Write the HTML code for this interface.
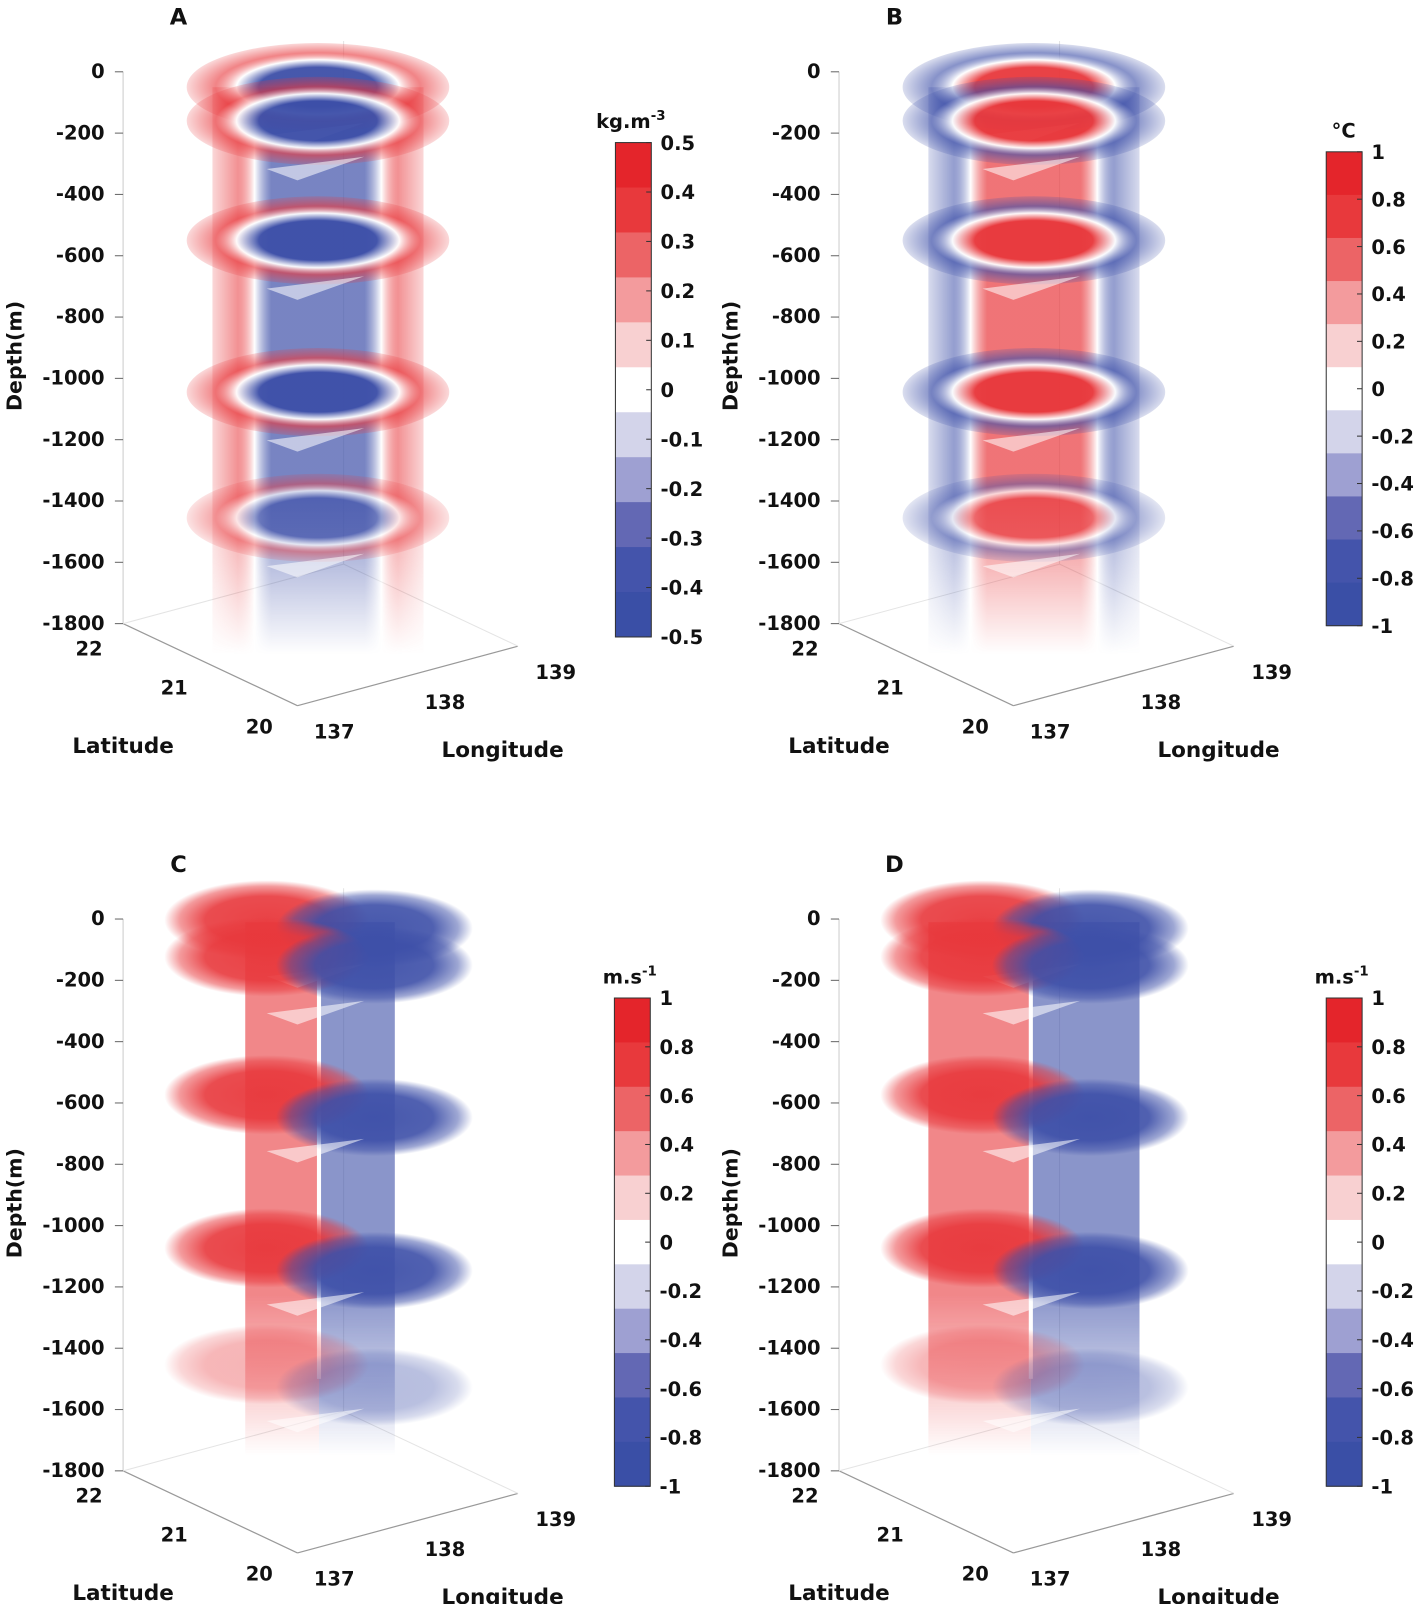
<!DOCTYPE html>
<html><head><meta charset="utf-8">
<style>
body{margin:0;background:#fff;}
svg text{font-family:"DejaVu Sans","Liberation Sans",sans-serif;font-weight:bold;fill:#111;}
</style></head>
<body>
<svg id="root" width="1418" height="1604" viewBox="0 0 1418 1604" xmlns="http://www.w3.org/2000/svg">
<defs id="defs"></defs>
<g id="fig" transform="scale(1.0257)"></g>
</svg>
<script>
const depthTicks=[0,-200,-400,-600,-800,-1000,-1200,-1400,-1600,-1800];
const latTicks=[22,21,20];
const lonTicks=[137,138,139];
const cbTicksA=[0.5,0.4,0.3,0.2,0.1,0,-0.1,-0.2,-0.3,-0.4,-0.5];
const cbTicksB=[1,0.8,0.6,0.4,0.2,0,-0.2,-0.4,-0.6,-0.8,-1];
const diskDepthsAB=[50,160,550,1045,1455];
const diskDepthsCD=[30,150,600,1100,1480];
const bandColors=['#e4252b','#e8393c','#ec6466','#f39b9d','#f8d0d1','#ffffff','#d3d4ea','#9ea0d2','#6368b4','#4454ab','#3a4fa6'];

const NS='http://www.w3.org/2000/svg';
const svg=document.getElementById('fig');
const defs=document.getElementById('defs');
function el(tag,attrs,parent){const e=document.createElementNS(NS,tag);for(const k in attrs)e.setAttribute(k,attrs[k]);(parent||svg).appendChild(e);return e;}
function txt(x,y,s,size,anchor,parent){const t=el('text',{x:x,y:y,'font-size':size,'text-anchor':anchor||'start'},parent);t.textContent=s;return t;}

const RED='#e8383c',BLUE='#3d4fa8';
function radial(id,inner,outer){
  const g=el('radialGradient',{id:id},defs);
  [[0,inner,1],[0.45,inner,1],[0.62,'#ffffff',1],[0.78,outer,0.65],[1,outer,0.2]].forEach(s=>el('stop',{offset:s[0],'stop-color':s[1],'stop-opacity':s[2]},g));
}
radial('diskA',BLUE,RED);radial('diskB',RED,BLUE);
function colGrad(id,inner,outer){
  const g=el('linearGradient',{id:id,x1:0,x2:1,y1:0,y2:0},defs);
  [[0,outer,0.2],[0.12,outer,0.55],[0.2,'#ffffff',1],[0.28,inner,0.7],[0.72,inner,0.7],[0.8,'#ffffff',1],[0.88,outer,0.55],[1,outer,0.2]].forEach(s=>el('stop',{offset:s[0],'stop-color':s[1],'stop-opacity':s[2]},g));
}
colGrad('colA',BLUE,RED);colGrad('colB',RED,BLUE);
function halfGrad(id,c){const g=el('radialGradient',{id:id},defs);
  [[0,c,0.95],[0.6,c,0.9],[0.85,c,0.5],[1,c,0]].forEach(s=>el('stop',{offset:s[0],'stop-color':s[1],'stop-opacity':s[2]},g));}
halfGrad('hRed',RED);halfGrad('hBlue',BLUE);
const fade=el('linearGradient',{id:'fade',x1:0,x2:0,y1:0,y2:1},defs);
[[0,1],[0.7,1],[1,0]].forEach(s=>el('stop',{offset:s[0],'stop-color':'#fff','stop-opacity':s[1]},fade));
const m=el('mask',{id:'fadeMask',maskContentUnits:'objectBoundingBox'},defs);
el('rect',{x:0,y:0,width:1,height:1,fill:'url(#fade)'},m);

function panel(ox,oy,cfg){
  const g=el('g',{});
  
  
  const y0=oy+70, span=538;
  const yOf=d=>y0+Math.abs(d)/1800*span;
  const ax=ox+120;
  el('line',{x1:ax,y1:y0,x2:ax,y2:yOf(-1800),stroke:'#ccc','stroke-width':1},g);
  el('line',{x1:ax,y1:yOf(-1800),x2:ox+290,y2:yOf(-1800)+80,stroke:'#999','stroke-width':1.2},g);
  el('line',{x1:ox+290,y1:yOf(-1800)+80,x2:ox+505,y2:yOf(-1800)+22,stroke:'#999','stroke-width':1.2},g);
  el('line',{x1:ax,y1:yOf(-1800),x2:ox+335,y2:yOf(-1800)-58,stroke:'#e4e4e4'},g);
  el('line',{x1:ox+335,y1:yOf(-1800)-58,x2:ox+505,y2:yOf(-1800)+22,stroke:'#e4e4e4'},g);
  el('line',{x1:ox+335,y1:yOf(-1800)-58,x2:ox+335,y2:y0-30,stroke:'#e4e4e4'},g);
  depthTicks.forEach(d=>{
    const y=yOf(d);
    el('line',{x1:ax-8,y1:y,x2:ax,y2:y,stroke:'#666'},g);
    const t=txt(ax-18,y+6,String(d),19,'end',g);
    
  });
  const yl=txt(0,0,'Depth(m)',20,'middle',g);
  yl.setAttribute('transform',`translate(${ox+21},${oy+347}) rotate(-90)`);
  
  latTicks.forEach((v,i)=>{const t=txt(ox+100+i*83,yOf(-1800)+31+i*38,String(v),19,'end',g);
    });
  lonTicks.forEach((v,i)=>{const t=txt(ox+306+i*108,yOf(-1800)+112-i*29,String(v),19,'start',g);
    });
  const lat=txt(ox+120,yOf(-1800)+126,'Latitude',21,'middle',g);
  
  const lon=txt(ox+490,yOf(-1800)+130,'Longitude',21,'middle',g);
  
  const pl=txt(ox+174,oy+24,cfg.letter,22,'middle',g);
  

  const cx=ox+310, rx=128, ry=43;
  if(cfg.kind==='ring'){
    const col=el('rect',{x:cx-103,y:yOf(-50),width:206,height:yOf(-1900)-yOf(-50),fill:`url(#col${cfg.g})`,mask:'url(#fadeMask)'},g);
    
    diskDepthsAB.forEach((d,i)=>{
      const e=el('ellipse',{cx:cx,cy:yOf(-d),rx:rx,ry:ry,fill:`url(#disk${cfg.g})`,opacity:i===4?0.7:0.95},g);
      
      el('polygon',{points:`${cx-50},${yOf(-d)+47} ${cx+45},${yOf(-d)+35} ${cx-20},${yOf(-d)+58}`,fill:'#fff',opacity:0.55},g);
    });
  } else {
    const split=cfg.split, w1=cfg.w1, w2=cfg.w2;
    const r=el('rect',{x:split-w1,y:yOf(-10),width:w1,height:yOf(-1750)-yOf(-10),fill:RED,opacity:0.6,mask:'url(#fadeMask)'},g);
    
    const b=el('rect',{x:split,y:yOf(-10),width:w2,height:yOf(-1750)-yOf(-10),fill:BLUE,opacity:0.6,mask:'url(#fadeMask)'},g);
    
    el('line',{x1:split,y1:yOf(-150),x2:split,y2:yOf(-1500),stroke:'#fff','stroke-width':4},g);
    diskDepthsCD.forEach((d,i)=>{
      const op=i>=4?0.4:1;
      const y=yOf(-d);
      const l=el('ellipse',{cx:cx-50,cy:y-8,rx:rx*0.78,ry:ry*0.9,fill:'url(#hRed)',opacity:op},g);
      
      const rr=el('ellipse',{cx:cx+55,cy:y+(i<2?0:14),rx:rx*0.75,ry:ry*0.88,fill:'url(#hBlue)',opacity:op},g);
      
      el('polygon',{points:`${cx-50},${y+47} ${cx+45},${y+35} ${cx-20},${y+58}`,fill:'#fff',opacity:0.55},g);
    });
  }
  const cb=el('g',{},g);
  
  const bx=cfg.cb[0],by=cfg.cb[1],bw=35,bh=cfg.cb[2];
  const n=bandColors.length;
  bandColors.forEach((c,i)=>el('rect',{x:bx,y:by+i*bh/n,width:bw,height:bh/n+0.5,fill:c},cb));
  el('rect',{x:bx,y:by,width:bw,height:bh,fill:'none',stroke:'#333','stroke-width':1},cb);
  cfg.ticks.forEach((v,i)=>{const y=by+i*bh/(cfg.ticks.length-1);
    el('line',{x1:bx+bw-5,y1:y,x2:bx+bw,y2:y,stroke:'#333'},cb);
    const t=txt(bx+bw+9,y+7,String(v),19,'start',cb);
    });
  const u=el('text',{x:bx+cfg.ux,y:by-14,'font-size':19,'text-anchor':'middle'},cb);
  
  u.innerHTML=cfg.unit;
}
panel(0,0,{letter:'A',kind:'ring',g:'A',cb:[600,139,482],ticks:cbTicksA,unit:'kg.m<tspan dy="-8" font-size="13">-3</tspan>',ux:15});
panel(698,0,{letter:'B',kind:'ring',g:'B',cb:[1293,148,462],ticks:cbTicksB,unit:'°C',ux:17});
panel(0,826,{letter:'C',kind:'split',split:311,w1:72,w2:74,cb:[599,973,476],ticks:cbTicksB,unit:'m.s<tspan dy="-8" font-size="13">-1</tspan>',ux:15});
panel(698,826,{letter:'D',kind:'split',split:1005,w1:100,w2:106,cb:[1293,973,476],ticks:cbTicksB,unit:'m.s<tspan dy="-8" font-size="13">-1</tspan>',ux:15});
</script>
</body></html>
